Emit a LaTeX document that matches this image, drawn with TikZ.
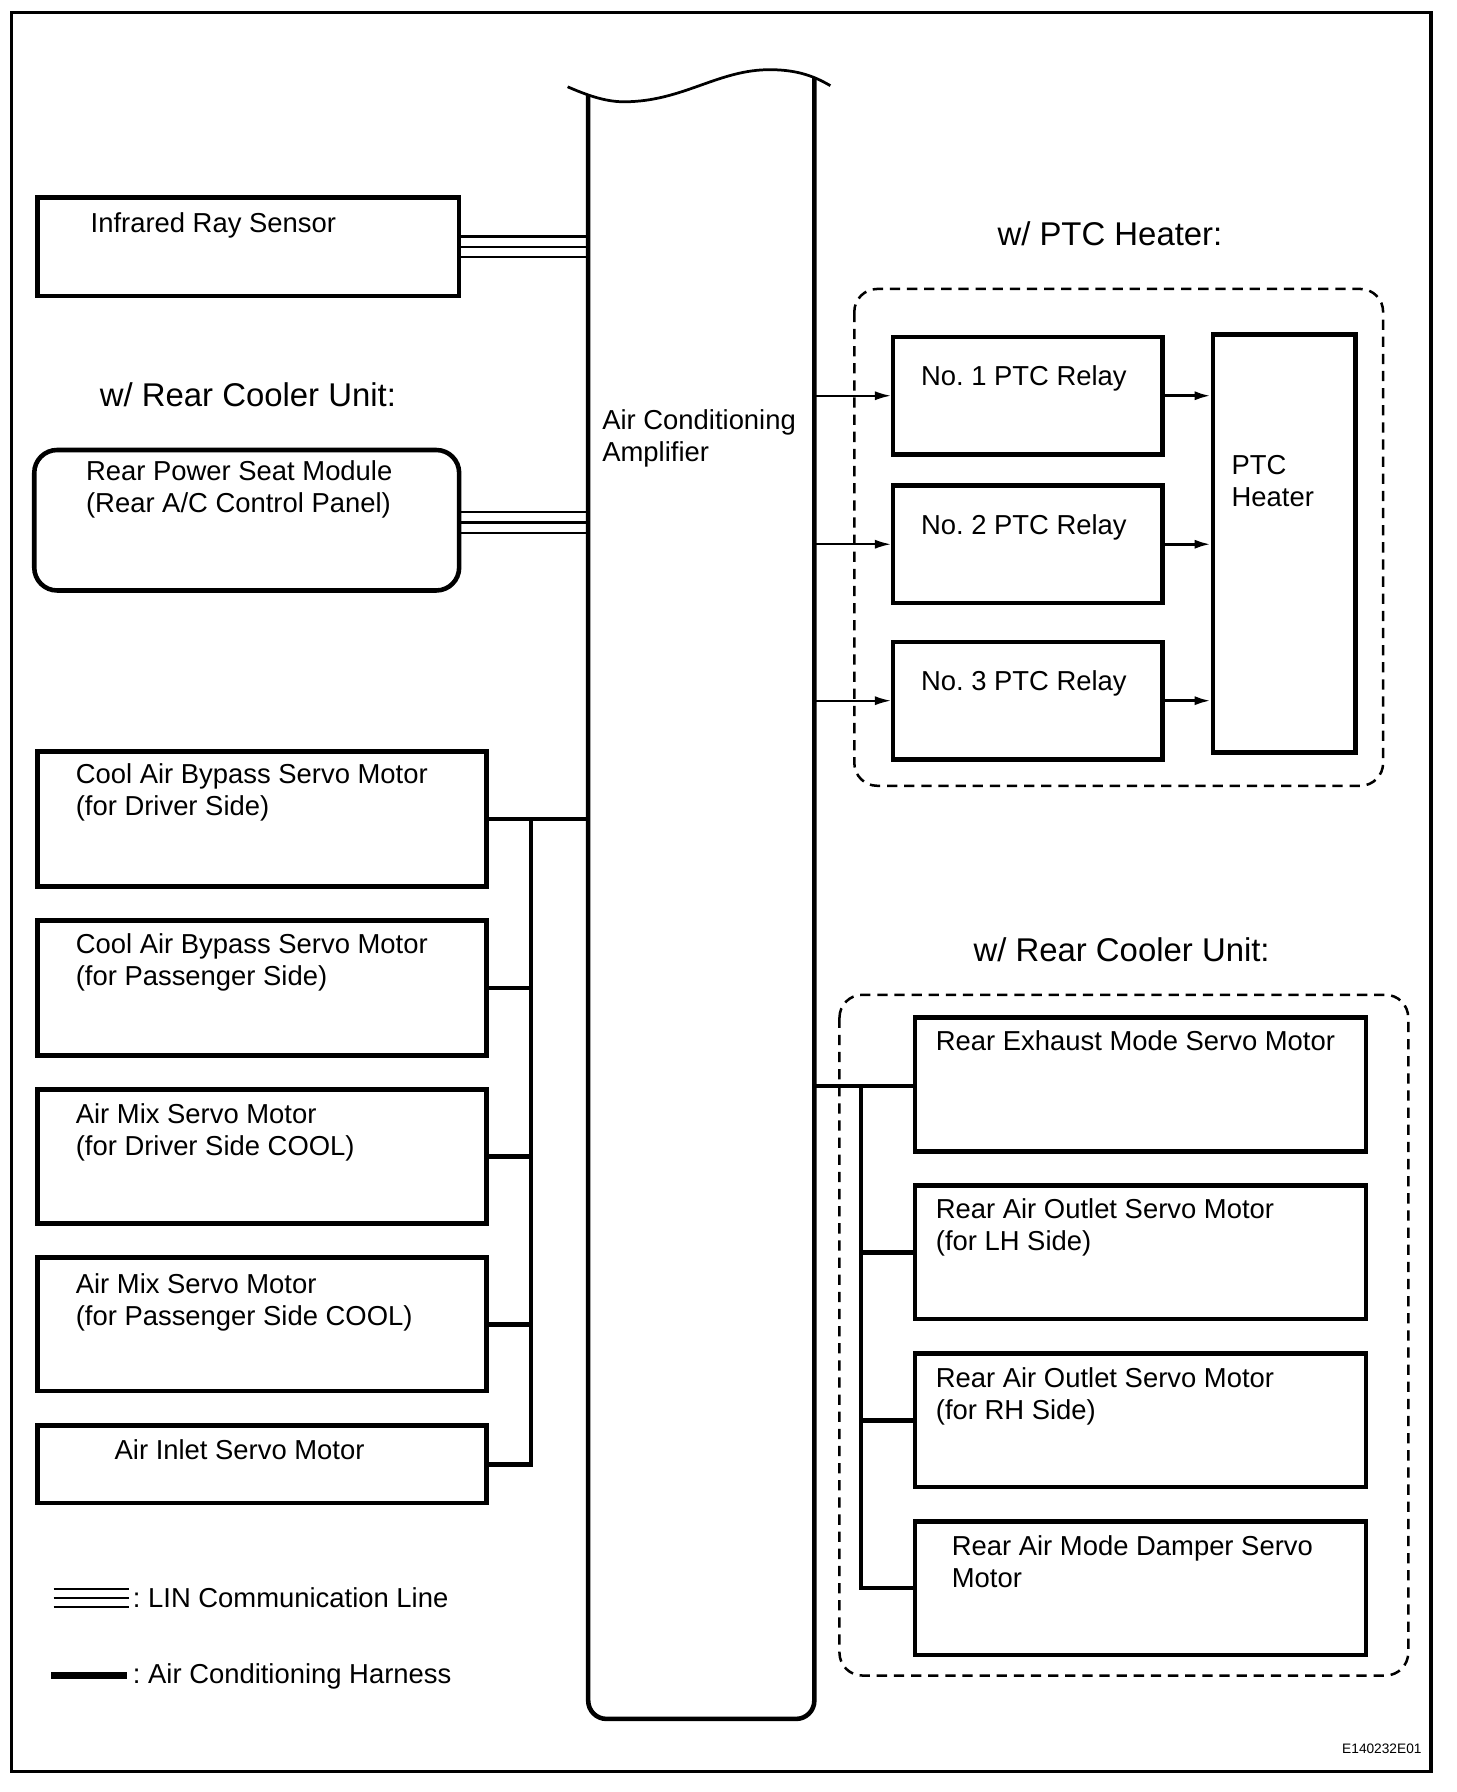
\documentclass[tikz,border=0pt]{standalone}
\usepackage{fontspec}
\setmainfont{Liberation Sans}
\usetikzlibrary{arrows.meta,positioning,calc,fit}
\frenchspacing

\tikzset{
  unit/.style={draw, line width=2pt, inner sep=0pt, fit={#1}},
  txt/.style={anchor=north west, inner sep=0pt, align=left, font=\fontsize{12}{14}\selectfont},
  head/.style={anchor=north west, inner sep=0pt, font=\fontsize{14.4}{17}\selectfont},
  harness/.style={line width=2pt},
  lin/.style={line width=1pt},
  sig/.style={line width=0.8pt, -{Latex[length=7pt,width=4pt]}},
  group/.style={draw, line width=1.1pt, dash pattern=on 4.5pt off 3pt, rounded corners=10pt}
}

\begin{document}
\begin{tikzpicture}[x=0.5pt, y=-0.5pt]
  \useasboundingbox (0,0) rectangle (1275,1569);
  % frame
  \draw[line width=1.5pt] (10,11) rectangle (1253,1551);

  % Air Conditioning Amplifier
  \node[fit={(515,83) (713,1505)}, inner sep=0pt] (amp) {};
  \draw[line width=2pt, rounded corners=8pt] (515,83) -- (515,1505) -- (713,1505) -- (713,68);
  \draw[line width=1.2pt] (497,76) .. controls (520,86) and (535,90) .. (552,89)
    .. controls (600,87) and (630,61) .. (674,61) .. controls (700,61) and (715,68) .. (727,75);
  \node[txt] at (527,358) {Air Conditioning\\Amplifier};

  % LIN units
  \node[unit={(33,173) (402,259)}] (sensor) {};
  \node[txt] at (79,186) {Infrared Ray Sensor};
  \node[head] at (87,335) {w/ Rear Cooler Unit:};
  \node[unit={(30,394) (402,517)}, rounded corners=10pt] (seatmod) {};
  \node[txt] at (75,403) {Rear Power Seat Module\\(Rear A/C Control Panel)};
  \foreach \dy in {-9,0,9} {
    \draw[lin] ($(sensor.east)+(0,\dy)$) -- ($(sensor.east -| amp.west)+(0,\dy)$);
    \draw[lin] ($(seatmod.east)+(0,\dy+2)$) -- ($(seatmod.east -| amp.west)+(0,\dy+2)$);
  }

  % Servo motors, left side
  \node[unit={(33,658) (426,776)}] (bypassdrv) {};
  \node[txt] at (66,668) {Cool Air Bypass Servo Motor\\(for Driver Side)};
  \node[unit={(33,806) (426,924)}] (bypasspas) {};
  \node[txt] at (66,817) {Cool Air Bypass Servo Motor\\(for Passenger Side)};
  \node[unit={(33,954) (426,1071)}] (mixdrv) {};
  \node[txt] at (66,966) {Air Mix Servo Motor\\(for Driver Side COOL)};
  \node[unit={(33,1101) (426,1218)}] (mixpas) {};
  \node[txt] at (66,1115) {Air Mix Servo Motor\\(for Passenger Side COOL)};
  \node[unit={(33,1248) (426,1316)}] (airinlet) {};
  \node[txt] at (100,1260) {Air Inlet Servo Motor};

  \coordinate (lbus) at (465,717);
  \draw[harness] (amp.west |- bypassdrv.east) -- (bypassdrv.east);
  \draw[harness] (lbus) |- (airinlet.east);
  \foreach \m in {bypasspas,mixdrv,mixpas}
    \draw[harness] (lbus |- \m.east) -- (\m.east);

  % legend
  \foreach \dy in {-8,0,8}
    \draw[lin] (47,1399+\dy) -- (113,1399+\dy);
  \node[txt] at (116,1390) {: LIN Communication Line};
  \draw[line width=3pt] (45,1467) -- (111,1467);
  \node[txt] at (116,1456) {: Air Conditioning Harness};

  % PTC heater
  \node[head] at (873,194) {w/ PTC Heater:};
  \draw[group] (748,253) rectangle (1211,688);
  \node[unit={(782,295) (1018,398)}] (relayA) {};
  \node[txt] at (806,320) {No. 1 PTC Relay};
  \node[unit={(782,425) (1018,528)}] (relayB) {};
  \node[txt] at (806,450) {No. 2 PTC Relay};
  \node[unit={(782,562) (1018,665)}] (relayC) {};
  \node[txt] at (806,587) {No. 3 PTC Relay};
  \node[unit={(1062,293) (1187,659)}] (heater) {};
  \node[txt] at (1078,398) {PTC\\Heater};
  \foreach \r in {relayA,relayB,relayC} {
    \draw[sig] (amp.east |- \r.west) -- (\r.west);
    \draw[sig, line width=1.2pt] (\r.east) -- (\r.east -| heater.west);
  }

  % rear cooler unit
  \node[head] at (852,821) {w/ Rear Cooler Unit:};
  \draw[group] (735,871) rectangle (1233,1467);
  \node[unit={(801,891) (1196,1008)}] (exhaust) {};
  \node[txt] at (819,902) {Rear Exhaust Mode Servo Motor};
  \node[unit={(801,1038) (1196,1155)}] (outletlh) {};
  \node[txt] at (819,1049) {Rear Air Outlet Servo Motor\\(for LH Side)};
  \node[unit={(801,1185) (1196,1302)}] (outletrh) {};
  \node[txt] at (819,1197) {Rear Air Outlet Servo Motor\\(for RH Side)};
  \node[unit={(801,1332) (1196,1449)}] (damper) {};
  \node[txt] at (833,1344) {Rear Air Mode Damper Servo\\Motor};

  \coordinate (rbus) at (754,951);
  \draw[harness] (amp.east |- rbus) -- (rbus -| exhaust.west);
  \draw[harness] (rbus) |- (damper.west);
  \foreach \m in {outletlh,outletrh}
    \draw[harness] (rbus |- \m.west) -- (\m.west);

  \node[anchor=east, inner sep=0pt, font=\fontsize{6}{7}\selectfont] (code) at (1245,1531) {E140232E01};
\end{tikzpicture}
\end{document}
